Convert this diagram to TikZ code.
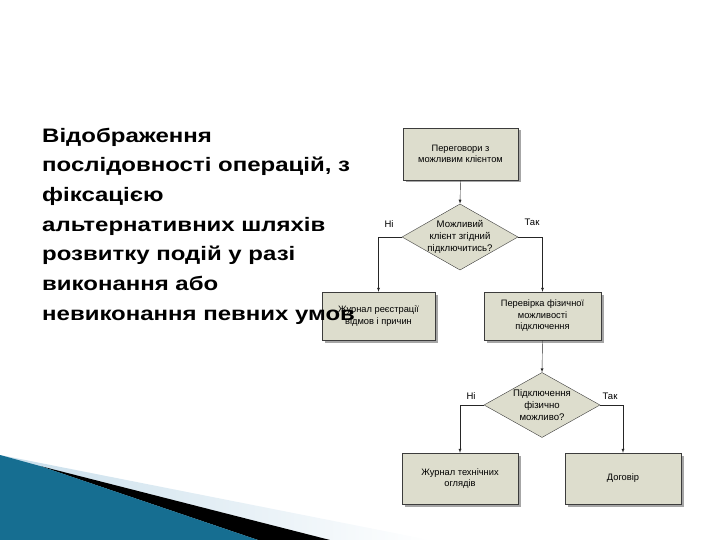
\documentclass[tikz,border=0pt]{standalone}
\usepackage{fontspec}
\setmainfont{Liberation Sans}
\usepackage{tikz}
\usetikzlibrary{shapes,shadows}

\definecolor{boxfill}{RGB}{221,221,205}
\definecolor{boxline}{RGB}{60,60,60}
\definecolor{seadark}{RGB}{22,110,145}
\definecolor{sealight}{RGB}{85,175,210}
\definecolor{seapale}{RGB}{200,222,235}

\begin{document}
\begin{tikzpicture}[x=1pt,y=-1pt]
        \tikzstyle{every path}=[thin]

        \tikzstyle{blk}=[draw=boxline,fill=boxfill,inner sep=2pt,align=center,
            font=\fontsize{9.3}{11.5}\selectfont,
            general shadow={fill=black!35,shadow xshift=2.5pt,shadow yshift=-2.5pt}]
        \tikzstyle{cond}=[draw=boxline,fill=boxfill,diamond,align=center,inner sep=-8pt,
            font=\fontsize{9.6}{12}\selectfont]
        \tikzstyle{lbl}=[font=\fontsize{9.5}{11}\selectfont]
        \tikzstyle{link}=[->,>=latex,draw=black!85]

        \useasboundingbox (0,0) rectangle (720,540);

        % corner decoration
        \shade[left color=seapale,right color=white] (0,455) -- (430,540) -- (0,540) -- cycle;
        \fill[black] (40,466) -- (330,540) -- (258,540) -- cycle;
        \shade[left color=seadark,middle color=sealight,right color=seadark]
            (0,455) -- (40,466) -- (258,540) -- (0,540) -- cycle;

        \node[blk,minimum width=115pt,minimum height=52pt] (talks) at (460.5,154) {Переговори з\\можливим клієнтом};
        \node[cond,minimum width=116pt,minimum height=63pt] (agree) at (460,237) {Можливий\\клієнт згідний\\підключитись?};
        \node[blk,minimum width=113pt,minimum height=48pt] (refuse) at (378.5,316) {Журнал реєстрації\\відмов і причин};
        \node[blk,minimum width=117pt,minimum height=48pt] (check) at (542.5,316) {Перевірка фізичної\\можливості\\підключення};
        \node[cond,minimum width=116pt,minimum height=65pt] (feasible) at (542,405) {Підключення\\фізично\\можливо?};
        \node[blk,minimum width=116pt,minimum height=51pt] (techlog) at (460,478.5) {Журнал технічних\\оглядів};
        \node[blk,minimum width=116pt,minimum height=51pt] (deal) at (623,478.5) {Договір};

        \node[lbl] (no1) at (389,224) {Ні};
        \node[lbl] (yes1) at (532,222) {Так};
        \node[lbl] (no2) at (471,396) {Ні};
        \node[lbl] (yes2) at (610,396) {Так};

        \draw[link] (talks.south) -- (agree.north);      % talks->agree
        \draw[link] (agree.west) -| (refuse.north);      % no
        \draw[link] (agree.east) -| (check.north);       % yes
        \draw[link] (check.south) -- (feasible.north);   % check->feasible
        \draw[link] (feasible.west) -| (techlog.north);  % no
        \draw[link] (feasible.east) -| (deal.north);     % yes

        \node[anchor=north west,inner sep=0pt,align=left,
            font=\bfseries\fontsize{19.5}{29.7}\selectfont\addfontfeature{FakeStretch=1.23}] (intro) at (42,127.5)
            {Відображення\\послідовності операцій, з\\фіксацією\\альтернативних шляхів\\розвитку подій у разі\\виконання або\\невиконання певних умов};

        \end{tikzpicture}
\end{document}
